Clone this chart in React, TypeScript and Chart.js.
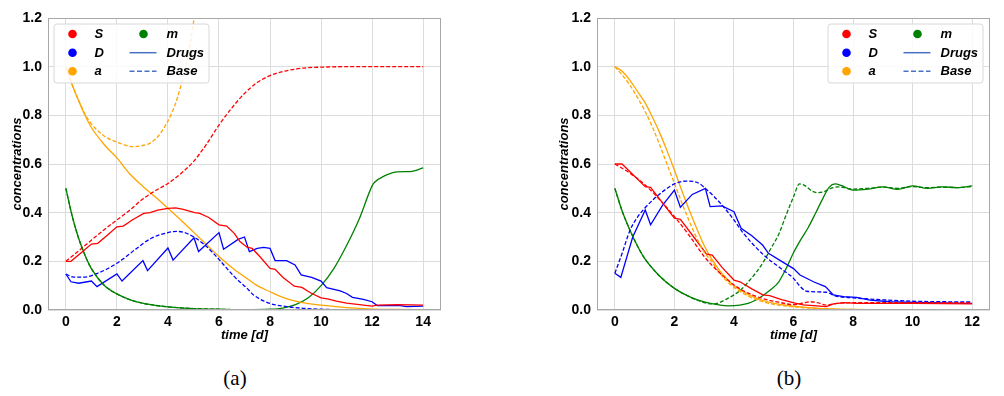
import React, { useEffect, useRef } from "react";
import { Chart, registerables } from "chart.js";

Chart.register(...registerables);

// ---------- tick labels ----------
const yTicks = [0, 0.2, 0.4, 0.6, 0.8, 1.0, 1.2];
const xTicksA = [0, 2, 4, 6, 8, 10, 12, 14];
const xTicksB = [0, 2, 4, 6, 8, 10, 12];
const legendLabels = ["S", "D", "a", "m", "Drugs", "Base"];

// ---------- panel (a) ----------
const aSDrugsT = [0, 0.2, 0.6, 1.0, 1.25, 1.6, 2.0, 2.25, 2.6, 3.05, 3.3, 3.6, 4.0, 4.3, 4.6, 5.05, 5.25, 5.6, 6.0, 6.3, 6.6, 6.82, 7.1, 7.3, 7.6, 8.0, 8.2, 8.5, 8.95, 9.25, 9.6, 10.0, 10.3, 10.6, 11.0, 12.0, 12.2, 13.0, 14.0];
const aSDrugsV = [0.2, 0.2, 0.235, 0.271, 0.274, 0.305, 0.342, 0.345, 0.37, 0.397, 0.4, 0.41, 0.418, 0.42, 0.414, 0.4, 0.397, 0.38, 0.35, 0.345, 0.315, 0.281, 0.258, 0.253, 0.22, 0.171, 0.167, 0.135, 0.098, 0.093, 0.07, 0.05, 0.045, 0.036, 0.028, 0.016, 0.02, 0.022, 0.02];

const aSBaseT = [0, 0.5, 1, 1.5, 2, 2.5, 3, 3.5, 4, 4.5, 5, 5.5, 6, 6.5, 7, 7.5, 8, 8.5, 9, 9.5, 10, 11, 12, 13, 14];
const aSBaseV = [0.2, 0.243, 0.287, 0.33, 0.37, 0.41, 0.455, 0.49, 0.52, 0.56, 0.61, 0.68, 0.76, 0.83, 0.89, 0.935, 0.963, 0.98, 0.99, 0.996, 0.998, 1.0, 1.0, 1.0, 1.0];

const aDDrugsT = [0, 0.2, 0.5, 1.0, 1.22, 2.0, 2.2, 3.02, 3.2, 4.0, 4.2, 5.02, 5.2, 6.0, 6.18, 6.75, 7.0, 7.19, 7.5, 7.75, 8.0, 8.2, 8.65, 8.98, 9.22, 9.63, 10.0, 10.22, 10.75, 11.0, 11.23, 11.66, 12.0, 12.2, 13.1, 13.35, 14.0];
const aDDrugsV = [0.148, 0.116, 0.11, 0.119, 0.096, 0.148, 0.119, 0.203, 0.162, 0.255, 0.205, 0.297, 0.24, 0.318, 0.25, 0.29, 0.3, 0.24, 0.253, 0.257, 0.253, 0.203, 0.203, 0.185, 0.144, 0.134, 0.119, 0.092, 0.079, 0.068, 0.052, 0.044, 0.034, 0.018, 0.018, 0.014, 0.016];

const aDBaseT = [0, 0.3, 0.7, 1.25, 2, 2.7, 3.35, 4, 4.35, 4.8, 5.45, 6, 6.6, 7.1, 7.35, 8, 8.65, 9.3, 10, 11, 12, 13, 14];
const aDBaseV = [0.148, 0.135, 0.135, 0.151, 0.192, 0.247, 0.295, 0.318, 0.323, 0.312, 0.267, 0.208, 0.137, 0.089, 0.062, 0.027, 0.014, 0.007, 0.003, 0.001, 0, 0, 0];

const aADrugsT = [0, 0.25, 0.5, 0.75, 1, 1.5, 2, 2.5, 3, 3.5, 4, 4.5, 5, 5.5, 6, 6.5, 7, 7.5, 8, 8.5, 9, 9.5, 10, 11, 12, 13, 14];
const aADrugsV = [1.0, 0.925, 0.86, 0.8, 0.75, 0.68, 0.625, 0.56, 0.51, 0.465, 0.418, 0.37, 0.32, 0.27, 0.22, 0.175, 0.137, 0.1, 0.075, 0.052, 0.036, 0.026, 0.02, 0.01, 0.004, 0.002, 0.001];

const aABaseT = [0, 0.25, 0.5, 0.75, 1, 1.5, 2, 2.65, 3, 3.3, 3.6, 3.95, 4.15, 4.35, 4.6, 4.8, 5.03, 5.2];
const aABaseV = [1.0, 0.925, 0.862, 0.805, 0.765, 0.715, 0.69, 0.671, 0.676, 0.686, 0.712, 0.767, 0.81, 0.865, 0.96, 1.05, 1.2, 1.3];

const aMDrugsT = [0, 0.25, 0.5, 0.75, 1, 1.5, 2, 2.5, 3, 3.5, 4, 5, 6, 7, 8, 8.5, 9, 9.5, 10, 10.5, 11, 11.5, 12, 12.1, 12.5, 13, 13.5, 14];
const aMDrugsV = [0.5, 0.385, 0.295, 0.225, 0.17, 0.102, 0.066, 0.043, 0.028, 0.019, 0.013, 0.006, 0.003, 0.001, 0.003, 0.008, 0.022, 0.05, 0.1, 0.17, 0.265, 0.375, 0.51, 0.525, 0.552, 0.568, 0.569, 0.584];

const aMBaseT = [0, 0.25, 0.5, 0.75, 1, 1.5, 2, 2.5, 3, 3.5, 4, 5, 6, 7, 8, 10, 12, 14];
const aMBaseV = [0.5, 0.385, 0.295, 0.225, 0.17, 0.102, 0.066, 0.043, 0.028, 0.019, 0.013, 0.006, 0.003, 0.001, 0, 0, 0, 0];

// ---------- panel (b) ----------
const bSDrugsT = [0, 0.24, 1.02, 1.2, 1.6, 2.0, 2.2, 2.65, 3.08, 3.27, 3.6, 4.0, 4.2, 4.6, 4.97, 5.2, 5.6, 6.05, 6.33, 7.1, 7.34, 7.7, 8.1, 9, 10, 11, 12];
const bSDrugsV = [0.6, 0.6, 0.507, 0.504, 0.44, 0.377, 0.373, 0.3, 0.23, 0.226, 0.175, 0.123, 0.116, 0.087, 0.062, 0.059, 0.043, 0.028, 0.021, 0.014, 0.025, 0.03, 0.027, 0.027, 0.027, 0.026, 0.025];

const bSBaseT = [0, 0.5, 1, 1.5, 2, 2.5, 3, 3.5, 4, 4.5, 5, 5.5, 6, 6.3, 6.55, 6.8, 7.1, 7.45, 8, 9, 10, 11, 12];
const bSBaseV = [0.6, 0.563, 0.516, 0.454, 0.384, 0.306, 0.22, 0.155, 0.103, 0.068, 0.046, 0.032, 0.022, 0.028, 0.034, 0.03, 0.02, 0.027, 0.03, 0.03, 0.03, 0.03, 0.03];

const bDDrugsT = [0, 0.2, 0.6, 1.02, 1.2, 1.6, 2.0, 2.2, 2.6, 3.04, 3.2, 3.6, 4.0, 4.24, 4.6, 4.96, 5.16, 5.6, 6.0, 6.22, 6.67, 7.07, 7.34, 7.68, 8.12, 8.57, 9.24, 10, 11, 12];
const bDDrugsV = [0.151, 0.134, 0.3, 0.411, 0.35, 0.43, 0.493, 0.422, 0.475, 0.5, 0.425, 0.428, 0.404, 0.336, 0.305, 0.267, 0.233, 0.2, 0.17, 0.144, 0.116, 0.096, 0.062, 0.055, 0.052, 0.041, 0.034, 0.031, 0.029, 0.027];

const bDBaseT = [0, 0.25, 0.5, 0.75, 1, 1.3, 1.6, 2, 2.4, 2.75, 3.1, 3.55, 4, 4.3, 5, 5.65, 6.0, 6.2, 6.45, 7.1, 7.4, 8, 9, 10, 11, 12];
const bDBaseV = [0.151, 0.235, 0.325, 0.38, 0.418, 0.455, 0.486, 0.518, 0.53, 0.525, 0.493, 0.438, 0.37, 0.318, 0.226, 0.164, 0.13, 0.1, 0.077, 0.073, 0.058, 0.05, 0.042, 0.036, 0.034, 0.033];

const bADrugsT = [0, 0.25, 0.5, 0.75, 1, 1.25, 1.5, 1.75, 2, 2.25, 2.5, 2.75, 3, 3.25, 3.5, 3.75, 4, 4.5, 5, 5.5, 6, 6.5, 7, 8, 9, 10, 12];
const bADrugsV = [1.0, 0.98, 0.945, 0.9, 0.855, 0.795, 0.73, 0.655, 0.575, 0.49, 0.41, 0.335, 0.265, 0.21, 0.165, 0.13, 0.1, 0.062, 0.038, 0.024, 0.016, 0.01, 0.006, 0.002, 0.001, 0, 0];

const bABaseT = [0, 0.25, 0.5, 0.75, 1, 1.25, 1.5, 1.75, 2, 2.25, 2.5, 2.75, 3, 3.25, 3.5, 3.75, 4, 4.5, 5, 5.5, 6, 6.5, 7, 8, 9, 10, 12];
const bABaseV = [1.0, 0.965, 0.925, 0.875, 0.82, 0.755, 0.68, 0.6, 0.52, 0.44, 0.365, 0.295, 0.238, 0.2, 0.155, 0.12, 0.093, 0.056, 0.033, 0.02, 0.013, 0.008, 0.005, 0.002, 0.001, 0, 0];

const bMDrugsT = [0, 0.25, 0.5, 0.75, 1, 1.5, 2, 2.5, 3, 3.5, 3.8, 4.2, 4.5, 4.75, 5, 5.25, 5.5, 5.75, 6, 6.25, 6.5, 6.75, 7, 7.2, 7.4, 7.6, 8, 8.5, 9, 9.5, 10, 10.5, 11, 11.5, 12];
const bMDrugsV = [0.5, 0.405, 0.33, 0.265, 0.212, 0.14, 0.089, 0.055, 0.033, 0.021, 0.017, 0.02, 0.028, 0.042, 0.062, 0.085, 0.115, 0.17, 0.235, 0.29, 0.34, 0.4, 0.462, 0.505, 0.518, 0.512, 0.493, 0.497, 0.506, 0.496, 0.51, 0.5, 0.506, 0.503, 0.51];

const bMBaseT = [0, 0.25, 0.5, 0.75, 1, 1.5, 2, 2.5, 3, 3.25, 3.5, 3.75, 4, 4.25, 4.5, 4.75, 5, 5.25, 5.5, 5.75, 6, 6.2, 6.4, 6.6, 6.8, 7, 7.25, 7.5, 8, 8.5, 9, 9.5, 10, 10.5, 11, 11.5, 12];
const bMBaseV = [0.5, 0.405, 0.33, 0.265, 0.212, 0.14, 0.089, 0.055, 0.03, 0.025, 0.03, 0.045, 0.062, 0.085, 0.118, 0.155, 0.2, 0.255, 0.31, 0.39, 0.465, 0.518, 0.51, 0.49, 0.482, 0.485, 0.5, 0.506, 0.497, 0.5, 0.505, 0.5, 0.507, 0.503, 0.505, 0.503, 0.508];

// ---------- styles ----------
const RED = "#ff0000";
const BLUE = "#0000ff";
const ORANGE = "#ffa500";
const GREEN = "#008000";
const LEGEND_LINE = "#4a72c4";
const SANS = "'Liberation Sans', Arial, Helvetica, sans-serif";

type S = { t: number[]; v: number[]; color: string; dashed: boolean; smooth: boolean };

function datasets(list: S[]) {
  return list.map((s) => ({
    data: s.t.map((t, i) => ({ x: t, y: s.v[i] })),
    borderColor: s.color,
    borderWidth: 1.3,
    borderDash: s.dashed ? [4, 2] : [],
    pointRadius: 0,
    fill: false,
    tension: 0,
    cubicInterpolationMode: s.smooth ? "monotone" : "default",
  }));
}

const frameLegendPlugin = {
  id: "frameLegend",
  afterDatasetsDraw(chart: any, _args: any, opts: any) {
    const { ctx, chartArea } = chart;
    ctx.save();
    // spines
    ctx.strokeStyle = "#a8a8a8";
    ctx.lineWidth = 1;
    ctx.strokeRect(
      Math.round(chartArea.left) + 0.5,
      Math.round(chartArea.top) + 0.5,
      Math.round(chartArea.right - chartArea.left) - 1,
      Math.round(chartArea.bottom - chartArea.top) - 1
    );
    // legend
    const w = 155;
    const h = 59;
    const x0 = opts.side === "left" ? chartArea.left + 6 : chartArea.right - 7 - w;
    const y0 = chartArea.top + 6;
    const r = 3;
    ctx.beginPath();
    ctx.moveTo(x0 + r, y0);
    ctx.lineTo(x0 + w - r, y0);
    ctx.quadraticCurveTo(x0 + w, y0, x0 + w, y0 + r);
    ctx.lineTo(x0 + w, y0 + h - r);
    ctx.quadraticCurveTo(x0 + w, y0 + h, x0 + w - r, y0 + h);
    ctx.lineTo(x0 + r, y0 + h);
    ctx.quadraticCurveTo(x0, y0 + h, x0, y0 + h - r);
    ctx.lineTo(x0, y0 + r);
    ctx.quadraticCurveTo(x0, y0, x0 + r, y0);
    ctx.closePath();
    ctx.fillStyle = "rgba(255,255,255,0.85)";
    ctx.fill();
    ctx.strokeStyle = "#d8d8d8";
    ctx.stroke();

    const rows = [10, 28.7, 47.3];
    const markerColors = [RED, BLUE, ORANGE];
    ctx.font = `italic bold 13px ${SANS}`;
    ctx.textBaseline = "middle";
    ctx.textAlign = "left";
    for (let i = 0; i < 3; i++) {
      ctx.fillStyle = markerColors[i];
      ctx.beginPath();
      ctx.arc(x0 + 18.5, y0 + rows[i], 4.3, 0, Math.PI * 2);
      ctx.fill();
      ctx.fillStyle = "#000";
      ctx.fillText(legendLabels[i], x0 + 40.5, y0 + rows[i] + 0.5);
    }
    // m
    ctx.fillStyle = GREEN;
    ctx.beginPath();
    ctx.arc(x0 + 89.5, y0 + rows[0], 4.3, 0, Math.PI * 2);
    ctx.fill();
    ctx.fillStyle = "#000";
    ctx.fillText(legendLabels[3], x0 + 112.5, y0 + rows[0] + 0.5);
    // Drugs / Base
    ctx.strokeStyle = LEGEND_LINE;
    ctx.lineWidth = 1.5;
    ctx.setLineDash([]);
    ctx.beginPath();
    ctx.moveTo(x0 + 75.5, y0 + rows[1]);
    ctx.lineTo(x0 + 102.5, y0 + rows[1]);
    ctx.stroke();
    ctx.setLineDash([5, 2.5]);
    ctx.beginPath();
    ctx.moveTo(x0 + 75.5, y0 + rows[2]);
    ctx.lineTo(x0 + 102.5, y0 + rows[2]);
    ctx.stroke();
    ctx.setLineDash([]);
    ctx.fillText(legendLabels[4], x0 + 112.5, y0 + rows[1] + 0.5);
    ctx.fillText(legendLabels[5], x0 + 112.5, y0 + rows[2] + 0.5);
    ctx.restore();
  },
};

function makeConfig(
  list: S[],
  xMin: number,
  xMax: number,
  xTicks: number[],
  padLeft: number,
  padRight: number,
  yTitlePad: number,
  side: string
): any {
  const tickFont = { family: SANS, size: 14, weight: "bold" as const };
  const titleFont = { family: SANS, size: 13, weight: "bold" as const, style: "italic" as const };
  return {
    type: "line",
    data: { datasets: datasets(list) },
    options: {
      animation: false,
      responsive: false,
      devicePixelRatio: 1,
      layout: { padding: { left: padLeft, right: padRight, top: 18, bottom: 0 } },
      plugins: {
        legend: { display: false },
        tooltip: { enabled: false },
        frameLegend: { side },
      },
      scales: {
        x: {
          type: "linear",
          min: xMin,
          max: xMax,
          afterBuildTicks: (scale: any) => {
            scale.ticks = xTicks.map((v) => ({ value: v }));
          },
          afterFit: (scale: any) => {
            scale.height = 40;
          },
          grid: { color: "#dcdcdc", lineWidth: 1, drawTicks: false },
          border: { display: false },
          ticks: { font: tickFont, color: "#000", padding: 4, maxRotation: 0, autoSkip: false, callback: (v: number) => String(v) },
          title: { display: true, text: "time [d]", font: titleFont, color: "#000", padding: { top: 0, bottom: 7 } },
        },
        y: {
          type: "linear",
          min: 0,
          max: 1.2,
          afterBuildTicks: (scale: any) => {
            scale.ticks = yTicks.map((v) => ({ value: v }));
          },
          afterFit: (scale: any) => {
            scale.width = 48;
          },
          grid: { color: "#dcdcdc", lineWidth: 1, drawTicks: false },
          border: { display: false },
          ticks: { font: tickFont, color: "#000", padding: 6, autoSkip: false, callback: (v: number) => v.toFixed(1) },
          title: { display: true, text: "concentrations", font: titleFont, color: "#000", padding: { top: yTitlePad, bottom: 0 } },
        },
      },
    },
    plugins: [frameLegendPlugin],
  };
}

const seriesA: S[] = [
  { t: aMBaseT, v: aMBaseV, color: GREEN, dashed: true, smooth: true },
  { t: aSBaseT, v: aSBaseV, color: RED, dashed: true, smooth: true },
  { t: aDBaseT, v: aDBaseV, color: BLUE, dashed: true, smooth: true },
  { t: aABaseT, v: aABaseV, color: ORANGE, dashed: true, smooth: true },
  { t: aSDrugsT, v: aSDrugsV, color: RED, dashed: false, smooth: false },
  { t: aDDrugsT, v: aDDrugsV, color: BLUE, dashed: false, smooth: false },
  { t: aADrugsT, v: aADrugsV, color: ORANGE, dashed: false, smooth: true },
  { t: aMDrugsT, v: aMDrugsV, color: GREEN, dashed: false, smooth: true },
];

const seriesB: S[] = [
  { t: bSBaseT, v: bSBaseV, color: RED, dashed: true, smooth: true },
  { t: bDBaseT, v: bDBaseV, color: BLUE, dashed: true, smooth: true },
  { t: bABaseT, v: bABaseV, color: ORANGE, dashed: true, smooth: true },
  { t: bMBaseT, v: bMBaseV, color: GREEN, dashed: true, smooth: true },
  { t: bSDrugsT, v: bSDrugsV, color: RED, dashed: false, smooth: false },
  { t: bDDrugsT, v: bDDrugsV, color: BLUE, dashed: false, smooth: false },
  { t: bADrugsT, v: bADrugsV, color: ORANGE, dashed: false, smooth: true },
  { t: bMDrugsT, v: bMDrugsV, color: GREEN, dashed: false, smooth: true },
];

function Panel({ config, left, width, height }: { config: any; left: number; width: number; height: number }) {
  const ref = useRef<HTMLCanvasElement>(null);
  useEffect(() => {
    const chart = new Chart(ref.current as HTMLCanvasElement, config);
    return () => chart.destroy();
  }, [config]);
  return (
    <canvas
      ref={ref}
      width={width}
      height={height}
      style={{ position: "absolute", left, top: 0, width, height }}
    />
  );
}

const configA = makeConfig(seriesA, -0.7, 14.7, xTicksA, 0, 59, 10, "left");
const configB = makeConfig(seriesB, -0.6, 12.6, xTicksB, 49, 14, 8, "right");

export default function App() {
  const cap: React.CSSProperties = {
    position: "absolute",
    top: 365,
    fontFamily: "'Liberation Serif', 'Times New Roman', serif",
    fontSize: 21,
    lineHeight: "26px",
    transform: "translateX(-50%)",
    color: "#000",
    whiteSpace: "nowrap",
  };
  return (
    <div style={{ position: "absolute", left: 0, top: 0, width: 1004, height: 396, background: "#fff", overflow: "hidden" }}>
      <Panel config={configA} left={0} width={500} height={350} />
      <Panel config={configB} left={500} width={504} height={350} />
      <div style={{ ...cap, left: 235 }}>(a)</div>
      <div style={{ ...cap, left: 789 }}>(b)</div>
    </div>
  );
}
